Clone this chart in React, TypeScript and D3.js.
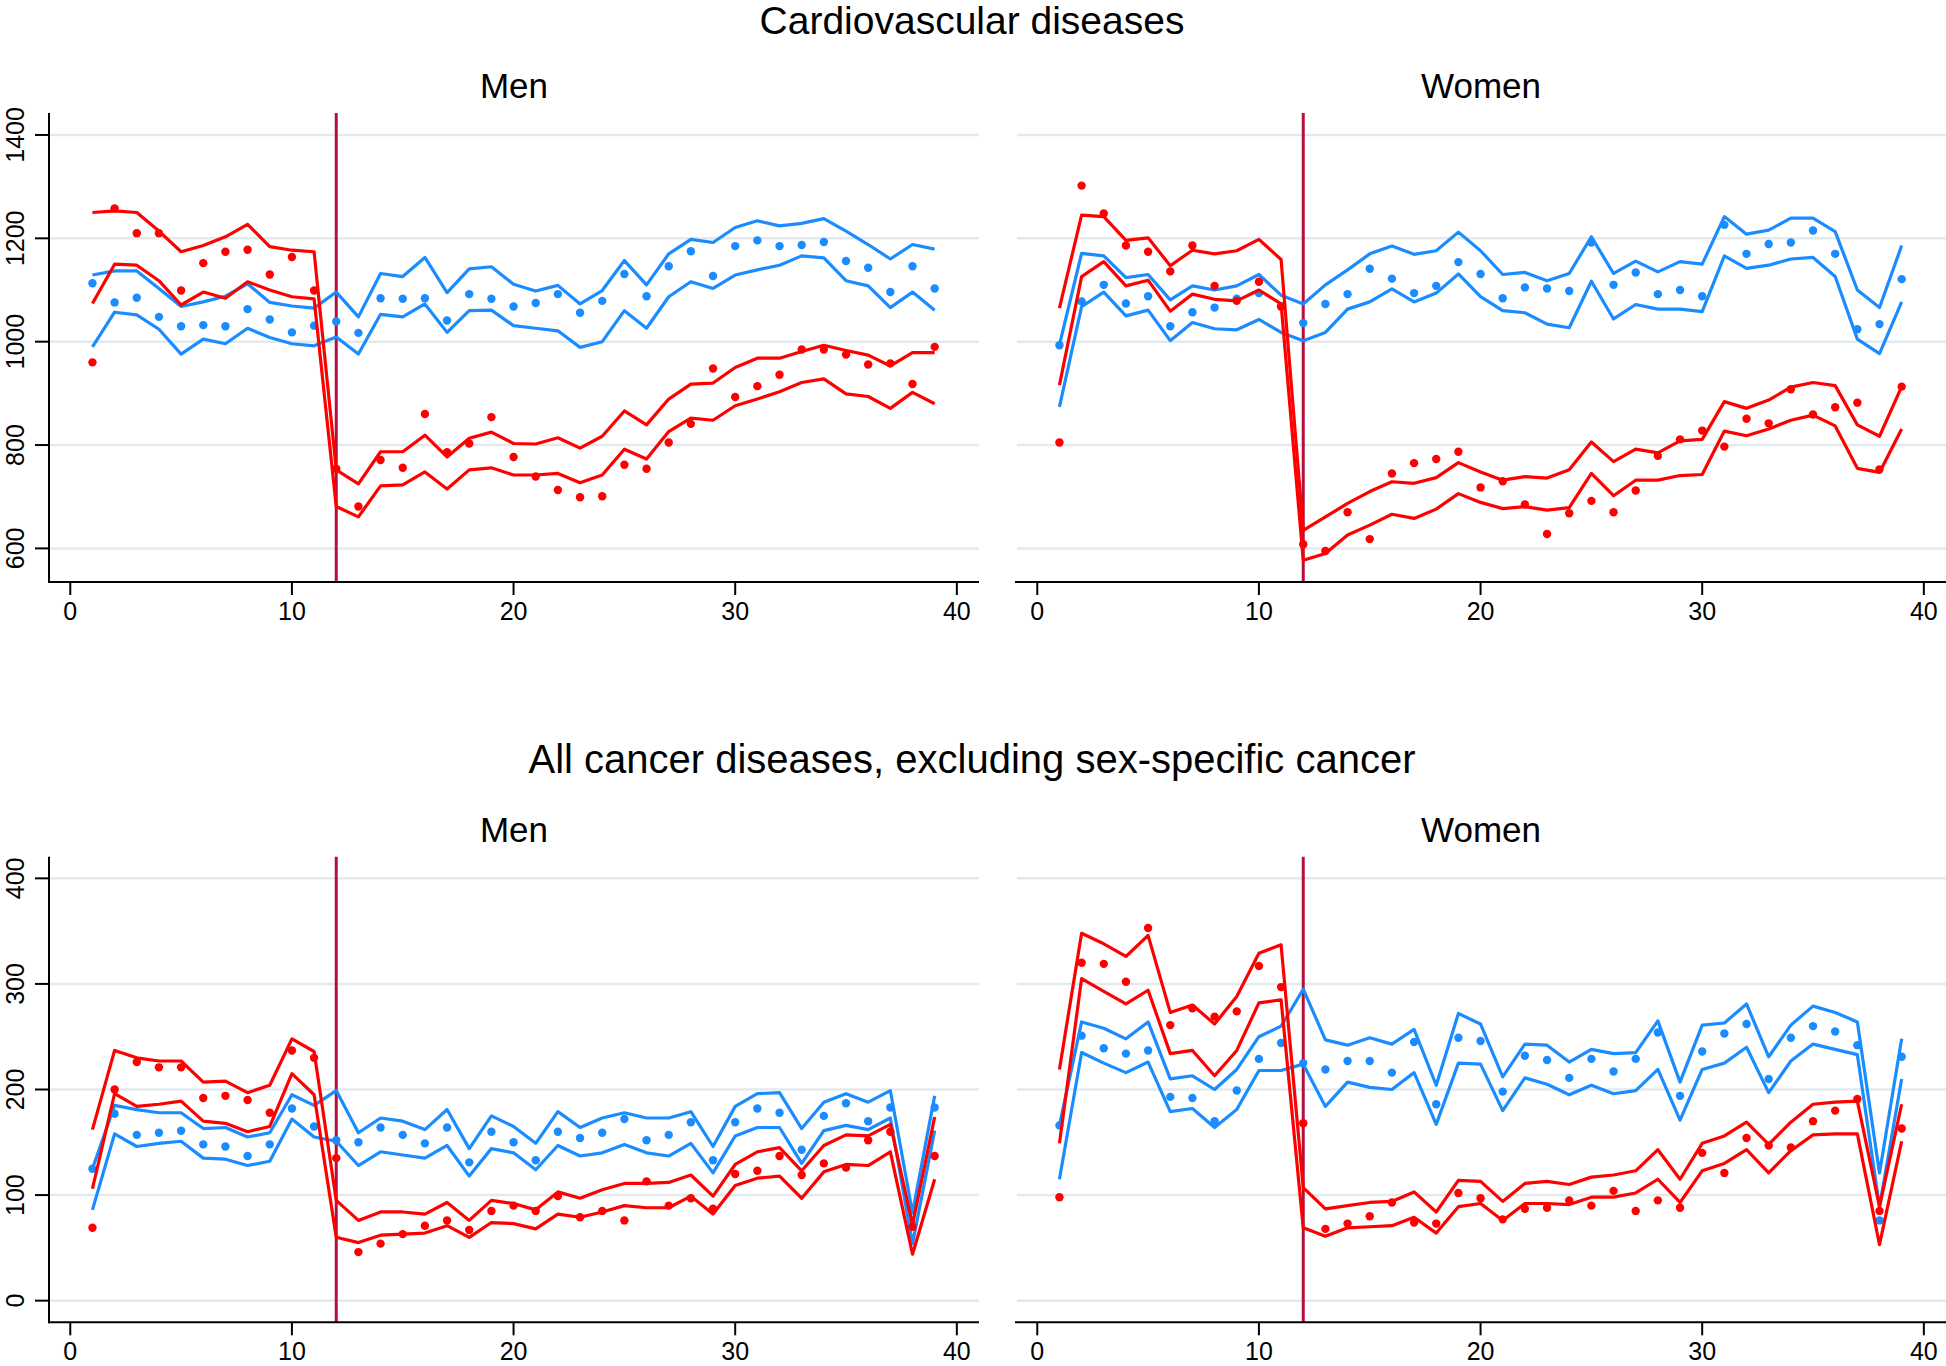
import React from 'react';
import * as d3 from 'd3';

// ---------- data ----------
const xValues = [1,2,3,4,5,6,7,8,9,10,11,12,13,14,15,16,17,18,19,20,21,22,23,24,25,26,27,28,29,30,31,32,33,34,35,36,37,38,39];
const cutoffX = 12;
const xTicks = [0, 10, 20, 30, 40];
const cvdTicks = [600, 800, 1000, 1200, 1400];
const cancerTicks = [0, 100, 200, 300, 400];

const sectionTitles = ['Cardiovascular diseases', 'All cancer diseases, excluding sex-specific cancer'];
const sexLabels = ['Men', 'Women'];

// Cardiovascular, men
const cvdMenBlueDot = [1113,1076,1085,1048,1030,1032,1030,1063,1043,1018,1031,1039,1017,1084,1083,1084,1041,1092,1083,1068,1075,1092,1056,1079,1131,1088,1146,1175,1127,1185,1196,1185,1187,1193,1156,1143,1096,1146,1103];
const cvdMenBlueHi = [1129,1137,1137,1103,1068,1077,1088,1112,1076,1069,1065,1096,1048,1132,1126,1163,1095,1141,1145,1111,1098,1109,1073,1099,1157,1110,1170,1198,1192,1221,1234,1224,1229,1238,1214,1188,1160,1188,1179];
const cvdMenBlueLo = [990,1057,1052,1024,976,1005,996,1026,1008,996,992,1009,976,1053,1048,1073,1018,1060,1061,1031,1026,1021,989,1000,1060,1026,1087,1116,1103,1129,1139,1148,1166,1162,1118,1108,1066,1096,1061];
const cvdMenRedDot = [960,1258,1210,1210,1099,1152,1174,1178,1130,1164,1099,754,681,771,756,860,786,803,854,777,739,713,699,701,762,754,805,841,948,893,914,936,985,985,975,956,958,918,990];
const cvdMenRedHi = [1250,1253,1250,1214,1174,1186,1203,1227,1184,1177,1174,752,725,787,787,819,777,813,825,803,802,814,794,817,866,839,889,918,920,950,968,968,981,993,983,974,953,979,979];
const cvdMenRedLo = [1074,1150,1148,1118,1071,1096,1084,1116,1100,1087,1083,681,661,721,723,748,715,752,756,742,742,745,727,742,792,773,826,852,848,876,889,903,921,928,899,894,871,902,880];

// Cardiovascular, women
const cvdWomenBlueDot = [993,1078,1110,1074,1088,1030,1057,1066,1083,1094,1068,1036,1073,1092,1141,1122,1094,1108,1154,1131,1084,1105,1103,1098,1192,1110,1134,1092,1100,1088,1226,1170,1189,1192,1215,1170,1024,1034,1121];
const cvdWomenBlueHi = [994,1171,1166,1124,1130,1081,1108,1100,1108,1130,1090,1073,1110,1139,1170,1185,1169,1176,1212,1176,1130,1134,1118,1132,1203,1132,1156,1135,1155,1150,1242,1208,1216,1239,1239,1213,1100,1066,1186];
const cvdWomenBlueLo = [874,1068,1096,1050,1061,1002,1037,1025,1023,1043,1018,1002,1018,1063,1077,1102,1077,1094,1131,1087,1060,1056,1034,1027,1117,1044,1072,1063,1063,1058,1166,1142,1148,1160,1163,1126,1005,977,1077];
const cvdWomenRedDot = [805,1302,1248,1186,1174,1136,1186,1108,1079,1116,1068,608,595,670,618,745,765,773,787,718,730,685,628,668,692,670,712,779,811,828,797,851,842,908,859,873,882,753,913];
const cvdWomenRedHi = [1065,1245,1242,1196,1201,1147,1177,1170,1176,1198,1159,635,661,687,710,729,726,737,766,748,732,739,736,752,806,768,792,785,808,811,884,871,887,912,921,915,839,817,913];
const cvdWomenRedLo = [916,1126,1155,1108,1119,1059,1092,1082,1079,1100,1073,577,590,626,645,666,658,676,706,689,677,681,674,679,745,702,732,732,741,743,827,818,831,848,858,837,755,747,831];

// Cancer, men
const canMenBlueDot = [125,177,157,159,161,148,146,137,148,182,165,152,150,164,157,149,164,131,160,150,133,160,154,159,172,152,157,169,133,169,182,178,143,175,187,170,183,72,183];
const canMenBlueHi = [125,185,181,178,178,163,164,155,159,195,185,199,159,173,170,162,181,144,175,165,149,179,164,173,178,173,173,179,146,184,196,197,163,188,196,188,199,83,194];
const canMenBlueLo = [86,158,146,149,151,135,134,128,132,172,155,151,128,141,138,135,147,118,144,140,124,147,137,140,148,140,137,149,121,156,164,164,130,161,166,162,173,54,161];
const canMenRedDot = [69,200,226,221,221,192,194,190,178,237,230,135,46,54,63,71,76,67,85,90,85,99,79,85,76,113,90,97,87,120,123,137,119,130,126,152,160,70,137];
const canMenRedHi = [162,237,230,227,227,207,208,197,204,248,236,95,76,84,84,82,93,76,95,92,86,103,97,105,111,111,112,119,99,129,141,145,123,147,157,156,167,72,174];
const canMenRedLo = [106,196,184,186,189,170,168,160,165,215,195,60,55,62,63,64,71,60,74,73,68,82,79,84,90,88,88,99,82,109,116,118,97,122,129,128,141,44,115];

// Cancer, women
const canWomenBlueDot = [166,251,239,234,237,193,192,170,199,229,244,225,219,227,227,216,245,186,249,246,198,232,228,211,229,217,229,254,194,236,253,262,210,249,260,255,242,76,231];
const canWomenBlueHi = [166,264,258,248,264,210,213,200,219,250,260,295,247,242,249,243,257,204,272,262,212,243,242,226,238,234,235,265,207,261,263,281,231,261,279,273,264,121,248];
const canWomenBlueLo = [115,235,225,216,226,179,182,164,181,218,218,224,184,207,202,200,216,167,225,224,180,211,205,195,204,196,199,219,171,219,225,240,197,227,243,238,233,89,210];
const canWomenRedDot = [98,320,319,302,353,261,277,269,274,317,297,168,68,73,80,93,74,73,102,97,77,87,88,95,90,104,85,95,88,140,121,154,147,145,170,180,191,85,163];
const canWomenRedHi = [219,348,338,326,346,273,280,262,288,329,337,107,87,90,93,94,103,84,114,113,94,111,113,110,117,119,123,143,115,149,156,169,148,169,186,188,189,89,186];
const canWomenRedLo = [149,305,293,281,294,234,237,213,237,282,285,69,61,69,70,71,79,64,89,92,76,92,92,91,98,98,102,115,93,123,130,143,121,142,157,158,158,53,151];

// ---------- style ----------
const BLUE = '#1a8cff';
const RED = '#ff0000';
const XLINE = '#b5103c';
const GRID = '#e2eaee';
const FONT = '"Liberation Sans", Arial, Helvetica, sans-serif';
const W = 1946;
const H = 1366;

type Series = { color: string; dots: number[]; hi: number[]; lo: number[] };

type PanelProps = {
  x0: number; x1: number; y0: number; y1: number;
  domain: [number, number]; ticks: number[]; showY: boolean;
  series: Series[];
};

function Panel({ x0, x1, y0, y1, domain, ticks, showY, series }: PanelProps) {
  const xs = d3.scaleLinear().domain([-0.96, 41]).range([x0, x1]);
  const ys = d3.scaleLinear().domain(domain).range([y1, y0]);
  const line = (vals: number[]) =>
    d3.line<number>().x((_, i) => xs(xValues[i])).y((v) => ys(v))(vals) || '';
  return (
    <g>
      {ticks.map((t) => (
        <line key={'g' + t} x1={x0 + 1} x2={x1} y1={ys(t)} y2={ys(t)} stroke={GRID} strokeWidth={2.5} />
      ))}
      <line x1={xs(cutoffX)} x2={xs(cutoffX)} y1={y0} y2={y1} stroke={XLINE} strokeWidth={3} />
      {series.map((s, si) => (
        <g key={si}>
          {s.dots.map((v, i) => (
            <circle key={i} cx={xs(xValues[i])} cy={ys(v)} r={4.2} fill={s.color} />
          ))}
          <path d={line(s.hi)} fill="none" stroke={s.color} strokeWidth={3.2} strokeLinejoin="round" />
          <path d={line(s.lo)} fill="none" stroke={s.color} strokeWidth={3.2} strokeLinejoin="round" />
        </g>
      ))}
      {/* x axis */}
      <line x1={x0 - 1} x2={x1} y1={y1} y2={y1} stroke="#000" strokeWidth={2} />
      {xTicks.map((t) => (
        <g key={'x' + t}>
          <line x1={xs(t)} x2={xs(t)} y1={y1} y2={y1 + 13} stroke="#000" strokeWidth={2} />
          <text x={xs(t)} y={y1 + 38} textAnchor="middle" fontSize={25} fontFamily={FONT} fill="#000">{t}</text>
        </g>
      ))}
      {showY && (
        <g>
          <line x1={x0} x2={x0} y1={y0} y2={y1 + 1} stroke="#000" strokeWidth={2} />
          {ticks.map((t) => (
            <g key={'y' + t}>
              <line x1={x0 - 14} x2={x0} y1={ys(t)} y2={ys(t)} stroke="#000" strokeWidth={2} />
              <text transform={`translate(${24},${ys(t)}) rotate(-90)`} textAnchor="middle" fontSize={25} fontFamily={FONT} fill="#000">{t}</text>
            </g>
          ))}
        </g>
      )}
    </g>
  );
}

export default function App() {
  const leftX: [number, number] = [49, 979];
  const rightX: [number, number] = [1016, 1946];
  const top = { y0: 113, y1: 582, domain: [535, 1442.5] as [number, number] };
  const bot = { y0: 856.7, y1: 1322.3, domain: [-20.5, 420.5] as [number, number] };

  const panels = [
    { x: leftX, r: top, ticks: cvdTicks, showY: true, label: sexLabels[0], labelY: 98,
      series: [{ color: BLUE, dots: cvdMenBlueDot, hi: cvdMenBlueHi, lo: cvdMenBlueLo }, { color: RED, dots: cvdMenRedDot, hi: cvdMenRedHi, lo: cvdMenRedLo }] },
    { x: rightX, r: top, ticks: cvdTicks, showY: false, label: sexLabels[1], labelY: 98,
      series: [{ color: BLUE, dots: cvdWomenBlueDot, hi: cvdWomenBlueHi, lo: cvdWomenBlueLo }, { color: RED, dots: cvdWomenRedDot, hi: cvdWomenRedHi, lo: cvdWomenRedLo }] },
    { x: leftX, r: bot, ticks: cancerTicks, showY: true, label: sexLabels[0], labelY: 841.5,
      series: [{ color: BLUE, dots: canMenBlueDot, hi: canMenBlueHi, lo: canMenBlueLo }, { color: RED, dots: canMenRedDot, hi: canMenRedHi, lo: canMenRedLo }] },
    { x: rightX, r: bot, ticks: cancerTicks, showY: false, label: sexLabels[1], labelY: 841.5,
      series: [{ color: BLUE, dots: canWomenBlueDot, hi: canWomenBlueHi, lo: canWomenBlueLo }, { color: RED, dots: canWomenRedDot, hi: canWomenRedHi, lo: canWomenRedLo }] },
  ];

  return (
    <svg width={W} height={H} viewBox={`0 0 ${W} ${H}`} style={{ position: 'absolute', left: 0, top: 0, background: '#fff' }}>
      <rect x={0} y={0} width={W} height={H} fill="#fff" />
      <text x={972} y={34} textAnchor="middle" fontSize={39} fontFamily={FONT} fill="#000">{sectionTitles[0]}</text>
      <text x={972} y={773} textAnchor="middle" fontSize={40} fontFamily={FONT} fill="#000">{sectionTitles[1]}</text>
      {panels.map((p, i) => (
        <g key={i}>
          <text x={(p.x[0] + p.x[1]) / 2} y={p.labelY} textAnchor="middle" fontSize={35} fontFamily={FONT} fill="#000">{p.label}</text>
          <Panel x0={p.x[0]} x1={p.x[1]} y0={p.r.y0} y1={p.r.y1} domain={p.r.domain} ticks={p.ticks} showY={p.showY} series={p.series} />
        </g>
      ))}
    </svg>
  );
}
